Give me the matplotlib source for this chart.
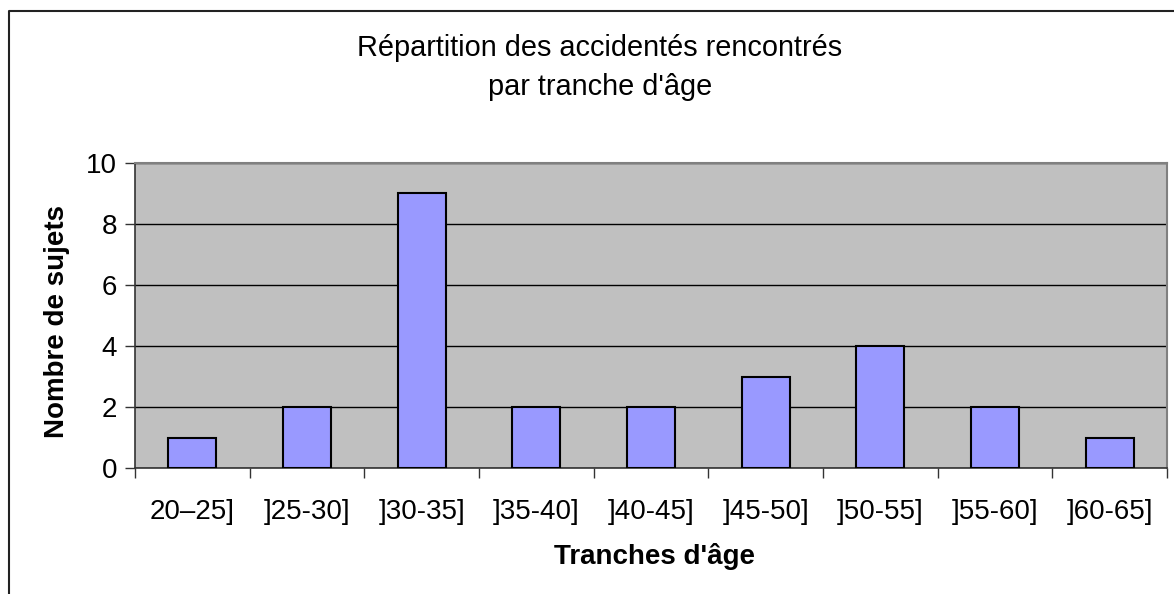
from matplotlib import pyplot as plt
from matplotlib.lines import Line2D
import numpy as np

plt.rcParams['font.family'] = ['Liberation Sans', 'DejaVu Sans']

categories = ['20–25]', ']25-30]', ']30-35]', ']35-40]', ']40-45]',
              ']45-50]', ']50-55]', ']55-60]', ']60-65]']
counts = [1, 2, 9, 2, 2, 3, 4, 2, 1]
y_ticks = [0, 2, 4, 6, 8, 10]

W, H = 1174, 594
fs = 20
fig = plt.figure(figsize=(W / 100, H / 100), dpi=100)
ax = fig.add_axes([135 / W, 1 - 468 / H, (1167 - 135) / W, (468 - 163) / H])
ax.set_facecolor('#C0C0C0')

x = np.arange(len(categories))
ax.bar(x, counts, width=0.42, color='#9999FF', edgecolor='black', linewidth=1.5, zorder=3)

ax.set_xlim(-0.5, len(categories) - 0.5)
ax.set_ylim(0, 10)
ax.set_yticks(y_ticks)
ax.set_yticklabels([str(v) for v in y_ticks], fontsize=fs)
ax.yaxis.grid(True, color='black', linewidth=1, zorder=1)
ax.set_axisbelow(True)

# category labels between the boundary ticks
ax.set_xticks(np.arange(len(categories) + 1) - 0.5)
ax.set_xticklabels([])
ax.set_xticks(x, minor=True)
ax.set_xticklabels(categories, minor=True, fontsize=fs)
ax.tick_params(axis='x', which='major', direction='out', length=7, width=1, color='#333333')
ax.tick_params(axis='x', which='minor', length=0, pad=22)
ax.tick_params(axis='y', direction='out', length=7, width=1, color='#333333', pad=6)

for side in ['left', 'bottom']:
    ax.spines[side].set_color('#333333')
    ax.spines[side].set_linewidth(1.2)
for side in ['top', 'right']:
    ax.spines[side].set_color('#808080')
    ax.spines[side].set_linewidth(1.5)

fig.text(600 / W, 1 - 48 / H, 'Répartition des accidentés rencontrés',
         ha='center', va='center', fontsize=20.8)
fig.text(600 / W, 1 - 87 / H, "par tranche d'âge",
         ha='center', va='center', fontsize=20.8)
fig.text(655 / W, 1 - 556 / H, "Tranches d'âge", ha='center', va='center',
         fontsize=fs, fontweight='bold')
fig.text(57 / W, 1 - 322 / H, 'Nombre de sujets', ha='center', va='center',
         rotation=90, fontsize=fs, fontweight='bold')

# outer chart frame (cropped at right and bottom)
fig.add_artist(Line2D([9 / W, 9 / W, 1.0], [0.0, 1 - 11 / H, 1 - 11 / H],
                      transform=fig.transFigure, color='#222222', linewidth=1.5))

fig.savefig('out.png', dpi=100)
